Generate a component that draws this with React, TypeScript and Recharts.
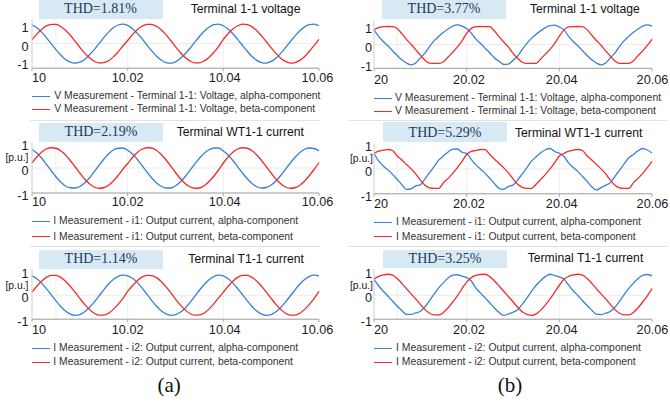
import React from 'react';
import { LineChart, Line, XAxis, YAxis, ReferenceLine } from 'recharts';

// ---------- data ----------
const TIME_MS = [0, 1, 2, 3, 4, 5, 6, 7, 8, 9, 10, 11, 12, 13, 14, 15, 16, 17, 18, 19, 20, 21, 22, 23, 24, 25, 26, 27, 28, 29, 30, 31, 32, 33, 34, 35, 36, 37, 38, 39, 40, 41, 42, 43, 44, 45, 46, 47, 48, 49, 50, 51, 52, 53, 54, 55, 56, 57, 58, 59, 60];
const X_TICKS = [0, 20, 40, 60];
const X_LABELS_A = ['10', '10.02', '10.04', '10.06'];
const X_LABELS_B = ['20', '20.02', '20.04', '20.06'];
const Y_TICKS = [-1, 0, 1];
const Y_LABELS = ['-1', '0', '1'];

const A1_ALPHA = [1.02, 0.87, 0.63, 0.33, 0.0, -0.33, -0.63, -0.87, -1.02, -1.07, -1.02, -0.87, -0.63, -0.33, 0.0, 0.33, 0.63, 0.87, 1.02, 1.07,
  1.0, 0.82, 0.57, 0.27, -0.07, -0.39, -0.68, -0.9, -1.04, -1.07, -1.0, -0.82, -0.57, -0.27, 0.07, 0.39, 0.68, 0.9, 1.04, 1.07,
  0.98, 0.8, 0.54, 0.23, -0.1, -0.42, -0.71, -0.92, -1.04, -1.07, -0.98, -0.8, -0.54, -0.23, 0.1, 0.42, 0.71, 0.92, 1.04, 1.07, 0.98];
const A1_BETA = [0.2, 0.52, 0.78, 0.97, 1.06, 1.05, 0.94, 0.73, 0.46, 0.13, -0.2, -0.52, -0.78, -0.97, -1.06, -1.05, -0.94, -0.73, -0.46, -0.13,
  0.17, 0.49, 0.76, 0.95, 1.06, 1.06, 0.95, 0.76, 0.49, 0.17, -0.17, -0.49, -0.76, -0.95, -1.06, -1.06, -0.95, -0.76, -0.49, -0.17,
  0.23, 0.54, 0.8, 0.98, 1.07, 1.04, 0.92, 0.71, 0.42, 0.1, -0.23, -0.54, -0.8, -0.98, -1.07, -1.04, -0.92, -0.71, -0.42, -0.1, 0.23];

const A2_ALPHA = [0.74, 0.6, 0.4, 0.15, -0.1, -0.35, -0.56, -0.72, -0.79, -0.8, -0.74, -0.6, -0.4, -0.15, 0.1, 0.35, 0.56, 0.72, 0.79, 0.8,
  0.71, 0.56, 0.35, 0.1, -0.15, -0.39, -0.59, -0.73, -0.8, -0.8, -0.71, -0.56, -0.35, -0.1, 0.15, 0.39, 0.59, 0.73, 0.8, 0.8,
  0.68, 0.52, 0.3, 0.05, -0.2, -0.43, -0.62, -0.75, -0.8, -0.78, -0.68, -0.52, -0.3, -0.05, 0.2, 0.43, 0.62, 0.75, 0.8, 0.78, 0.68];
const A2_BETA = [0.2, 0.44, 0.63, 0.76, 0.81, 0.79, 0.69, 0.52, 0.3, 0.05, -0.2, -0.44, -0.63, -0.76, -0.81, -0.79, -0.69, -0.52, -0.3, -0.05,
  0.18, 0.42, 0.62, 0.75, 0.81, 0.8, 0.71, 0.54, 0.33, 0.08, -0.18, -0.42, -0.62, -0.75, -0.81, -0.8, -0.71, -0.54, -0.33, -0.08,
  0.2, 0.44, 0.63, 0.76, 0.81, 0.79, 0.69, 0.52, 0.3, 0.05, -0.2, -0.44, -0.63, -0.76, -0.81, -0.79, -0.69, -0.52, -0.3, -0.05, 0.22];

const A3_ALPHA = [0.81, 0.69, 0.51, 0.28, 0.03, -0.23, -0.47, -0.66, -0.79, -0.84, -0.81, -0.69, -0.51, -0.28, -0.03, 0.23, 0.47, 0.66, 0.79, 0.84,
  0.81, 0.71, 0.54, 0.31, 0.05, -0.21, -0.45, -0.65, -0.78, -0.84, -0.81, -0.71, -0.54, -0.31, -0.05, 0.21, 0.45, 0.65, 0.78, 0.84,
  0.81, 0.69, 0.51, 0.28, 0.03, -0.23, -0.47, -0.66, -0.79, -0.84, -0.81, -0.69, -0.51, -0.28, -0.03, 0.23, 0.47, 0.66, 0.79, 0.84, 0.81];
const A3_BETA = [0.13, 0.38, 0.59, 0.75, 0.83, 0.83, 0.75, 0.59, 0.38, 0.13, -0.13, -0.38, -0.59, -0.75, -0.83, -0.83, -0.75, -0.59, -0.38, -0.13,
  0.16, 0.4, 0.61, 0.76, 0.83, 0.82, 0.74, 0.58, 0.36, 0.11, -0.16, -0.4, -0.61, -0.76, -0.83, -0.82, -0.74, -0.58, -0.36, -0.11,
  0.13, 0.38, 0.59, 0.75, 0.83, 0.83, 0.75, 0.59, 0.38, 0.13, -0.13, -0.38, -0.59, -0.75, -0.83, -0.83, -0.75, -0.59, -0.38, -0.13, 0.16];

const B1_ALPHA = [0.78, 0.44, 0.17, -0.06, -0.32, -0.57, -0.8, -0.97, -1.07, -0.97, -0.7, -0.45, -0.09, 0.21, 0.44, 0.65, 0.83, 0.98, 1.04, 0.98, 0.85,
  0.61, 0.29, 0.06, -0.19, -0.44, -0.7, -0.88, -1.05, -1.03, -0.83, -0.6, -0.25, 0.07, 0.33, 0.55, 0.74, 0.9, 1.01, 1.03, 0.93,
  0.78, 0.44, 0.17, -0.06, -0.32, -0.57, -0.8, -0.97, -1.07, -0.97, -0.7, -0.45, -0.09, 0.21, 0.44, 0.65, 0.83, 0.98, 1.04, 0.98];
const B1_BETA = [0.78, 0.9, 0.955, 0.96, 0.955, 0.85, 0.58, 0.28, 0.02, -0.26, -0.55, -0.82, -0.98, -0.99, -0.99, -0.9, -0.65, -0.4, -0.12, 0.2, 0.6,
  0.86, 0.955, 0.96, 0.955, 0.95, 0.72, 0.42, 0.14, -0.12, -0.46, -0.72, -0.93, -0.99, -0.99, -0.985, -0.75, -0.5, -0.25, 0.07, 0.45,
  0.78, 0.94, 0.955, 0.96, 0.955, 0.78, 0.5, 0.22, -0.03, -0.33, -0.6, -0.86, -0.99, -0.99, -0.99, -0.85, -0.58, -0.33, -0.04, 0.28];

const B2_ALPHA = [0.62, 0.32, 0.12, -0.04, -0.22, -0.42, -0.63, -0.82, -0.8, -0.68, -0.64, -0.4, -0.15, 0.1, 0.36, 0.52, 0.68, 0.79, 0.8, 0.67, 0.62,
  0.38, 0.16, -0.01, -0.18, -0.38, -0.59, -0.78, -0.82, -0.7, -0.65, -0.45, -0.2, 0.05, 0.31, 0.49, 0.65, 0.77, 0.82, 0.7, 0.63,
  0.5, 0.24, 0.06, -0.11, -0.3, -0.5, -0.72, -0.85, -0.75, -0.66, -0.55, -0.3, -0.05, 0.2, 0.45, 0.58, 0.73, 0.82, 0.76, 0.64];
const B2_BETA = [0.62, 0.71, 0.75, 0.78, 0.74, 0.52, 0.36, 0.18, 0.0, -0.2, -0.45, -0.66, -0.76, -0.78, -0.78, -0.55, -0.38, -0.18, 0.05, 0.3, 0.58,
  0.7, 0.74, 0.78, 0.77, 0.58, 0.39, 0.22, 0.04, -0.16, -0.4, -0.62, -0.74, -0.78, -0.78, -0.62, -0.42, -0.22, 0.0, 0.25, 0.52,
  0.62, 0.71, 0.75, 0.78, 0.74, 0.52, 0.36, 0.18, 0.0, -0.2, -0.45, -0.66, -0.76, -0.78, -0.78, -0.55, -0.38, -0.18, 0.05, 0.3];

const B3_ALPHA = [0.67, 0.4, 0.17, -0.03, -0.24, -0.45, -0.64, -0.8, -0.8, -0.74, -0.67, -0.48, -0.22, 0.06, 0.32, 0.53, 0.72, 0.84, 0.86, 0.8, 0.74,
  0.6, 0.3, 0.09, -0.11, -0.32, -0.53, -0.72, -0.84, -0.78, -0.71, -0.6, -0.38, -0.11, 0.16, 0.42, 0.62, 0.78, 0.88, 0.83, 0.77,
  0.68, 0.43, 0.19, -0.01, -0.22, -0.43, -0.62, -0.79, -0.81, -0.75, -0.68, -0.5, -0.25, 0.03, 0.29, 0.51, 0.7, 0.83, 0.87, 0.81];
const B3_BETA = [0.67, 0.79, 0.85, 0.88, 0.84, 0.7, 0.5, 0.28, 0.06, -0.15, -0.38, -0.6, -0.75, -0.82, -0.82, -0.72, -0.52, -0.28, -0.02, 0.28, 0.55,
  0.74, 0.83, 0.87, 0.88, 0.78, 0.6, 0.39, 0.17, -0.05, -0.27, -0.5, -0.69, -0.8, -0.84, -0.78, -0.62, -0.4, -0.15, 0.13, 0.42,
  0.67, 0.79, 0.85, 0.88, 0.84, 0.7, 0.5, 0.28, 0.06, -0.15, -0.38, -0.6, -0.75, -0.82, -0.82, -0.72, -0.52, -0.28, -0.02, 0.28];

const THD_TEXTS = ['THD=1.81%', 'THD=2.19%', 'THD=1.14%', 'THD=3.77%', 'THD=5.29%', 'THD=3.25%'];
const TITLES = ['Terminal 1-1 voltage', 'Terminal WT1-1 current', 'Terminal T1-1 current', 'Terminal 1-1 voltage', 'Terminal WT1-1 current', 'Terminal T1-1 current'];
const LEGEND_A = ['V Measurement - Terminal 1-1: Voltage, alpha-component', 'V Measurement - Terminal 1-1: Voltage, beta-component'];
const LEGEND_I1 = ['I Measurement - i1: Output current, alpha-component', 'I Measurement - i1: Output current, beta-component'];
const LEGEND_I2 = ['I Measurement - i2: Output current, alpha-component', 'I Measurement - i2: Output current, beta-component'];

// ---------- styling ----------
const BLUE = '#3a7fd8';
const RED = '#f52a2a';
const SANS = "'Liberation Sans', Arial, Helvetica, sans-serif";
const SERIF = "'Liberation Serif', 'Times New Roman', Times, serif";
const TICK_FS = 12.7;

type Cfg = {
  l: number; r: number; t: number; b: number;
  domain: [number, number];
  xLabels: string[]; xDx: number[]; xGap: number; yRight: number;
  alpha: number[]; beta: number[];
  pu: number | null; puRight: number;
  thd: string; box: [number, number, number, number]; thdY: number;
  title: string; titleX: number; titleY: number;
  legend: string[]; legY: [number, number]; legLineX: number; legTextX: number;
};

const PANELS: Cfg[] = [
  { l: 32, r: 319, t: 18.5, b: 67.7, domain: [-1.35, 1.35], xLabels: X_LABELS_A, xDx: [0, 0, 1.4, -1.5], xGap: 9.8, yRight: 28.5,
    alpha: A1_ALPHA, beta: A1_BETA, pu: null, puRight: 28.5, thd: THD_TEXTS[0], box: [38.5, 0, 124, 18.5], thdY: 9,
    title: TITLES[0], titleX: 190.7, titleY: 9, legend: LEGEND_A, legY: [96, 109], legLineX: 32, legTextX: 54.3 },
  { l: 32, r: 319, t: 143, b: 193, domain: [-1, 1], xLabels: X_LABELS_A, xDx: [0, 0, 1.4, -1.5], xGap: 8.7, yRight: 28.5,
    alpha: A2_ALPHA, beta: A2_BETA, pu: 158, puRight: 28.5, thd: THD_TEXTS[1], box: [39, 122.5, 124, 19.5], thdY: 132.3,
    title: TITLES[1], titleX: 176.7, titleY: 132.3, legend: LEGEND_I1, legY: [221, 236.5], legLineX: 32, legTextX: 53.3 },
  { l: 32, r: 319, t: 268.5, b: 318.7, domain: [-1, 1.1], xLabels: X_LABELS_A, xDx: [0, 0, 1.4, -1.5], xGap: 10.3, yRight: 28.5,
    alpha: A3_ALPHA, beta: A3_BETA, pu: 286, puRight: 28.5, thd: THD_TEXTS[2], box: [39, 249.5, 124, 19], thdY: 259,
    title: TITLES[2], titleX: 188.3, titleY: 259, legend: LEGEND_I2, legY: [348.3, 362.3], legLineX: 32, legTextX: 53.3 },
  { l: 374, r: 652, t: 21, b: 68.3, domain: [-1.25, 1.25], xLabels: X_LABELS_B, xDx: [0, 2.3, 2.4, 0.5], xGap: 11.7, yRight: 372,
    alpha: B1_ALPHA, beta: B1_BETA, pu: null, puRight: 373, thd: THD_TEXTS[3], box: [382, 0, 124, 18.5], thdY: 9,
    title: TITLES[3], titleX: 530, titleY: 9, legend: LEGEND_A, legY: [98.3, 111], legLineX: 374, legTextX: 395 },
  { l: 374, r: 652, t: 143.5, b: 193.3, domain: [-1, 1], xLabels: X_LABELS_B, xDx: [0, 2.3, 2.4, 0.5], xGap: 9.4, yRight: 372,
    alpha: B2_ALPHA, beta: B2_BETA, pu: 158.5, puRight: 373, thd: THD_TEXTS[4], box: [383.3, 121.7, 123.4, 20.6], thdY: 132.5,
    title: TITLES[4], titleX: 515, titleY: 132.7, legend: LEGEND_I1, legY: [222.3, 236.7], legLineX: 374, legTextX: 396 },
  { l: 374, r: 652, t: 268.5, b: 318.7, domain: [-1, 1.1], xLabels: X_LABELS_B, xDx: [0, 2.3, 2.4, 0.5], xGap: 10.3, yRight: 372,
    alpha: B3_ALPHA, beta: B3_BETA, pu: 285.5, puRight: 373, thd: THD_TEXTS[5], box: [383, 249.5, 124, 18.5], thdY: 258.5,
    title: TITLES[5], titleX: 527.7, titleY: 258.3, legend: LEGEND_I2, legY: [348.3, 362.3], legLineX: 374, legTextX: 396 },
];

function Txt(props: { x: number; cy: number; size: number; lh?: number; color?: string; font?: string; anchor?: 'start' | 'middle' | 'end'; children: React.ReactNode }) {
  const lh = props.lh ?? Math.round(props.size * 1.3);
  const style: React.CSSProperties = {
    position: 'absolute', top: props.cy - lh / 2, height: lh, lineHeight: lh + 'px', fontSize: props.size,
    fontFamily: props.font ?? SANS, color: props.color ?? '#111', whiteSpace: 'nowrap',
  };
  if (props.anchor === 'end') style.right = 670 - props.x;
  else if (props.anchor === 'middle') { style.left = props.x; style.transform = 'translateX(-50%)'; }
  else style.left = props.x;
  return <div style={style}>{props.children}</div>;
}

function Panel({ cfg }: { cfg: Cfg }) {
  const yW = 34;
  const mTop = 4;
  const mRight = 18;
  const xH = 22;
  const plotW = cfg.r - cfg.l;
  const plotH = cfg.b - cfg.t;
  const W = yW + plotW + mRight;
  const H = mTop + plotH + xH;
  const left = cfg.l - yW;
  const top = cfg.t - mTop;
  const data = TIME_MS.map((t, i) => ({ t, alpha: cfg.alpha[i], beta: cfg.beta[i] }));
  const localBottom = mTop + plotH;

  const xTick = (p: any) => {
    const idx = X_TICKS.indexOf(p.payload.value);
    const anchor = idx === 0 ? 'start' : 'middle';
    return (
      <text x={p.x + (cfg.xDx[idx] || 0)} y={localBottom + cfg.xGap} dy={TICK_FS * 0.35} textAnchor={anchor}
        fontSize={TICK_FS} fontFamily={SANS} fill="#1a1a1a">{cfg.xLabels[idx]}</text>
    );
  };
  const yTick = (p: any) => {
    const idx = Y_TICKS.indexOf(p.payload.value);
    return (
      <text x={cfg.yRight - left} y={p.y + 2.6} dy={TICK_FS * 0.35} textAnchor="end"
        fontSize={TICK_FS} fontFamily={SANS} fill="#1a1a1a">{Y_LABELS[idx]}</text>
    );
  };

  return (
    <div style={{ position: 'absolute', left, top, width: W, height: H }}>
      <LineChart width={W} height={H} data={data} margin={{ top: mTop, right: mRight, bottom: 0, left: 0 }}>
        <XAxis dataKey="t" type="number" domain={[0, 60]} ticks={X_TICKS} interval={0} height={xH}
          tickSize={3} tickMargin={0} tickLine={{ stroke: '#aaa' }} axisLine={{ stroke: '#9a9a9a' }} tick={xTick} />
        <YAxis type="number" domain={cfg.domain} ticks={Y_TICKS} interval={0} width={yW} allowDataOverflow
          tickLine={false} axisLine={{ stroke: '#cfcfcf' }} tick={yTick} />
        <ReferenceLine y={0} stroke="#ececec" />
        <ReferenceLine x={5} stroke="#efefef" />
        <ReferenceLine x={20} stroke="#efefef" />
        <ReferenceLine x={40} stroke="#efefef" />
        <Line type="monotone" dataKey="alpha" stroke={BLUE} strokeWidth={1.3} dot={false} isAnimationActive={false} />
        <Line type="monotone" dataKey="beta" stroke={RED} strokeWidth={1.3} dot={false} isAnimationActive={false} />
      </LineChart>
    </div>
  );
}

function Decor({ cfg }: { cfg: Cfg }) {
  const [bx, by, bw, bh] = cfg.box;
  return (
    <>
      <div style={{ position: 'absolute', left: bx, top: by, width: bw, height: bh, background: '#d7e9f2' }} />
      <Txt x={bx + bw / 2} cy={cfg.thdY} size={14} font={SERIF} color="#23385f" anchor="middle">{cfg.thd}</Txt>
      <Txt x={cfg.titleX} cy={cfg.titleY} size={12.2} color="#111">{cfg.title}</Txt>
      {cfg.pu !== null && (
        <Txt x={cfg.puRight} cy={cfg.pu} size={10.4} color="#222" anchor="end">[p.u.]</Txt>
      )}
      {cfg.legend.map((txt, i) => (
        <React.Fragment key={i}>
          <div style={{ position: 'absolute', left: Math.round(cfg.legLineX), top: Math.round(cfg.legY[i] - 0.5), width: 18, height: 1.4, background: i === 0 ? BLUE : RED }} />
          <Txt x={cfg.legTextX} cy={cfg.legY[i]} size={10.4} color="#333">{txt}</Txt>
        </React.Fragment>
      ))}
    </>
  );
}

export default function App() {
  return (
    <div style={{ position: 'absolute', left: 0, top: 0, width: 670, height: 402, background: '#fff', overflow: 'hidden' }}>
      {PANELS.map((cfg, i) => <Panel key={'p' + i} cfg={cfg} />)}
      {PANELS.map((cfg, i) => <Decor key={'d' + i} cfg={cfg} />)}
      <div style={{ position: 'absolute', left: 30, top: 120, width: 290, height: 1, background: '#e2e2e2' }} />
      <div style={{ position: 'absolute', left: 30, top: 246, width: 290, height: 1, background: '#e2e2e2' }} />
      <div style={{ position: 'absolute', left: 348, top: 120, width: 320, height: 1, background: '#e2e2e2' }} />
      <div style={{ position: 'absolute', left: 348, top: 246, width: 320, height: 1, background: '#e2e2e2' }} />
      <Txt x={169.2} cy={385.7} size={21} font={SERIF} color="#111" anchor="middle">(a)</Txt>
      <Txt x={510} cy={385.7} size={21} font={SERIF} color="#111" anchor="middle">(b)</Txt>
    </div>
  );
}
